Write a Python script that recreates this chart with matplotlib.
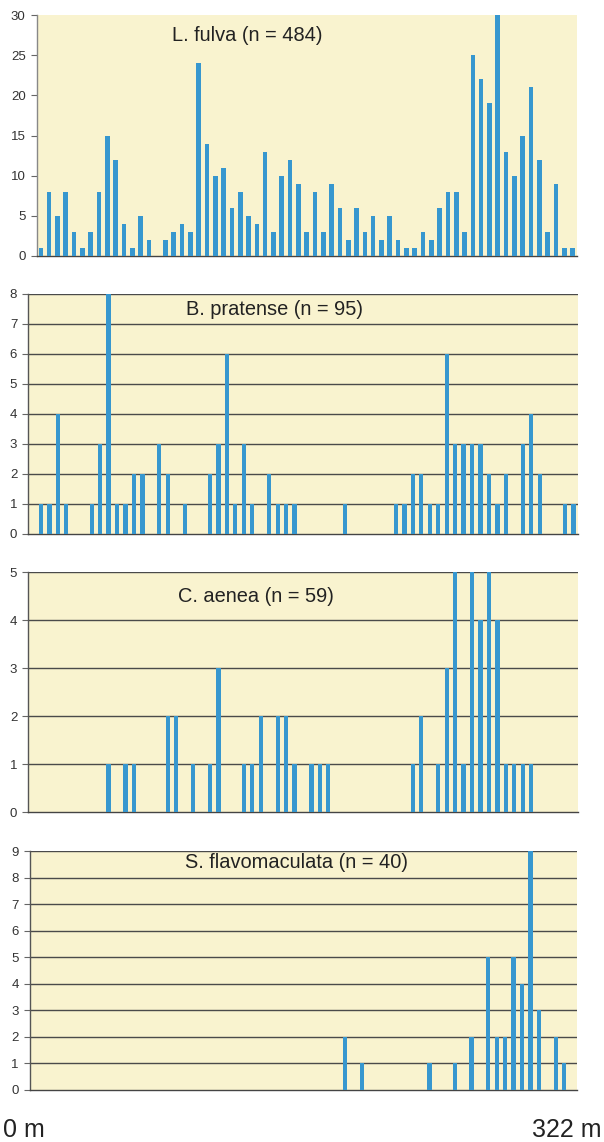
import numpy as np
import matplotlib.pyplot as plt

# counts per 5 m section along the 322 m transect
l_fulva = [1, 8, 5, 8, 3, 1, 3, 8, 15, 12, 4, 1, 5,
           2, 0, 2, 3, 4, 3, 24, 14, 10, 11, 6, 8, 5,
           4, 13, 3, 10, 12, 9, 3, 8, 3, 9, 6, 2, 6,
           3, 5, 2, 5, 2, 1, 1, 3, 2, 6, 8, 8, 3,
           25, 22, 19, 30, 13, 10, 15, 21, 12, 3, 9, 1, 1]

b_pratense = [0, 1, 1, 4, 1, 0, 0, 1, 3, 8, 1, 1, 2,
              2, 0, 3, 2, 0, 1, 0, 0, 2, 3, 6, 1, 3,
              1, 0, 2, 1, 1, 1, 0, 0, 0, 0, 0, 1, 0,
              0, 0, 0, 0, 1, 1, 2, 2, 1, 1, 6, 3, 3,
              3, 3, 2, 1, 2, 0, 3, 4, 2, 0, 0, 1, 1]

c_aenea = [0, 0, 0, 0, 0, 0, 0, 0, 0, 1, 0, 1, 1,
           0, 0, 0, 2, 2, 0, 1, 0, 1, 3, 0, 0, 1,
           1, 2, 0, 2, 2, 1, 0, 1, 1, 1, 0, 0, 0,
           0, 0, 0, 0, 0, 0, 1, 2, 0, 1, 3, 5, 1,
           5, 4, 5, 4, 1, 1, 1, 1, 0, 0, 0, 0, 0]

s_flavo = [0, 0, 0, 0, 0, 0, 0, 0, 0, 0, 0, 0, 0,
           0, 0, 0, 0, 0, 0, 0, 0, 0, 0, 0, 0, 0,
           0, 0, 0, 0, 0, 0, 0, 0, 0, 0, 0, 2, 0,
           1, 0, 0, 0, 0, 0, 0, 0, 1, 0, 0, 1, 0,
           2, 0, 5, 2, 2, 5, 4, 9, 3, 0, 2, 1, 0]

titles = ['L. fulva (n = 484)', 'B. pratense (n = 95)',
          'C. aenea (n = 59)', 'S. flavomaculata (n = 40)']
series = [l_fulva, b_pratense, c_aenea, s_flavo]
ymaxes = [30, 8, 5, 9]
ysteps = [5, 1, 1, 1]

W, H = 604, 1142
# plot-area boxes in pixels: left, top, right, bottom
boxes = [(36.7, 15, 576.7, 256),
         (28.3, 294, 577.7, 534),
         (28.3, 572.3, 577.7, 812.3),
         (29.7, 851, 576.7, 1090)]
title_pos = [(247.5, 35.5), (274.5, 309.5), (256, 596.5), (296.5, 862.5)]

bar_col = '#3797cf'
bg_col = '#f9f3cf'

plt.rcParams['font.family'] = ['Liberation Sans', 'DejaVu Sans']

fig = plt.figure(figsize=(W / 100, H / 100), dpi=100)

for k in range(4):
    l, t, r, b = boxes[k]
    ax = fig.add_axes([l / W, 1 - b / H, (r - l) / W, (b - t) / H])
    ax.set_facecolor(bg_col)
    vals = np.array(series[k])
    x = np.arange(len(vals))
    wid = 0.55 if k == 0 else 0.5
    ax.bar(x, vals, width=wid, color=bar_col, zorder=3)

    ax.set_xlim(-0.5, len(vals) - 0.5)
    ax.set_ylim(0, ymaxes[k])
    ax.set_yticks(np.arange(0, ymaxes[k] + 1, ysteps[k]))
    ax.set_xticks([])
    ax.tick_params(axis='y', length=4, width=0.8, color='#666666',
                   labelsize=9.5, labelcolor='#333333', pad=4)

    for s in ['top', 'right']:
        ax.spines[s].set_visible(False)
    ax.spines['bottom'].set_color('#444444')
    ax.spines['bottom'].set_linewidth(1.0)

    if k == 0:
        ax.spines['left'].set_color('#888888')
        ax.spines['left'].set_linewidth(1.0)
    else:
        ax.spines['left'].set_color('#555555')
        ax.spines['left'].set_linewidth(1.0)
        for yv in range(1, ymaxes[k] + 1):
            ax.axhline(yv, color='#4a4a4a', lw=1.0, zorder=1)

    tx, ty = title_pos[k]
    fig.text(tx / W, 1 - ty / H, titles[k], ha='center', va='center',
             fontsize=14.4, color='#222222')

fig.text(3 / W, 1 - 1130 / H, '0 m', ha='left', va='center',
         fontsize=18, color='#222222')
fig.text(601 / W, 1 - 1130 / H, '322 m', ha='right', va='center',
         fontsize=18, color='#222222')

fig.savefig('out.png', dpi=100)
